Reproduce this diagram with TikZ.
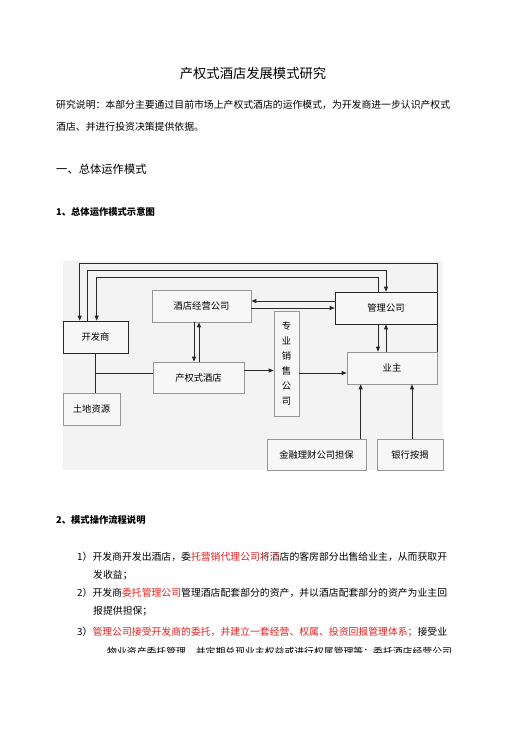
\documentclass[tikz,border=0pt]{standalone}
\usepackage{fontspec}
\setmainfont{Noto Sans CJK SC}
\usepackage{xcolor}
\usetikzlibrary{arrows.meta}

\definecolor{notered}{RGB}{228,32,32}
\definecolor{bggray}{RGB}{243,243,243}
\definecolor{boxfill}{RGB}{247,247,247}
\definecolor{boxline}{RGB}{150,150,150}
\definecolor{linegray}{RGB}{40,40,40}

\begin{document}
\begin{tikzpicture}[
    x=1pt, y=-1pt,
    box/.style={
        rectangle,
        draw=boxline,
        fill=boxfill,
        line width=0.7pt,
        inner sep=0pt,
        align=center,
        font=\fontsize{9.3}{11}\selectfont
    },
    darkbox/.style={box, draw=black!85},
    arrow/.style={-{Triangle[length=5pt,width=4pt]}, line width=0.8pt, draw=linegray},
    link/.style={line width=0.8pt, draw=linegray},
    bodytext/.style={anchor=west, inner sep=0pt, font=\fontsize{9.85}{12}\selectfont},
    headtext/.style={anchor=west, inner sep=0pt, font=\fontsize{9.3}{11}\selectfont\bfseries}
]
\useasboundingbox (0,0) rectangle (506,742);
\fill[white] (0,0) rectangle (506,742);

% Page text
\node[inner sep=0pt, font=\fontsize{13.3}{16}\selectfont] (doctitle) at (253,73) {产权式酒店发展模式研究};
\node[bodytext] (intro1) at (56,105) {研究说明：本部分主要通过目前市场上产权式酒店的运作模式，为开发商进一步认识产权式};
\node[bodytext] (intro2) at (56,127) {酒店、并进行投资决策提供依据。};
\node[bodytext, font=\fontsize{11.3}{14}\selectfont] (sec1) at (56,169) {一、总体运作模式};
\node[headtext] (sub1) at (56,212) {1、总体运作模式示意图};

% Diagram background
\fill[bggray] (63,261) rectangle (443,470);

% Boxes
\node[darkbox, minimum width=65pt, minimum height=32pt] (dev) at (95.5,337) {开发商};
\node[box, minimum width=57pt, minimum height=32pt] (land) at (91.5,409) {土地资源};
\node[box, minimum width=99pt, minimum height=32pt] (oper) at (201.5,306) {酒店经营公司};
\node[box, minimum width=91pt, minimum height=31pt] (hotel) at (198.5,377.5) {产权式酒店};
\node[box, minimum width=25pt, minimum height=105pt,
      font=\fontsize{9.3}{15}\selectfont] (sales) at (286.5,363.5) {专\\业\\销\\售\\公\\司};
\node[darkbox, minimum width=102pt, minimum height=32pt] (mgmt) at (386,308) {管理公司};
\node[box, minimum width=90pt, minimum height=32pt] (owner) at (392,368) {业主};
\node[box, minimum width=99pt, minimum height=31pt] (fin) at (316.5,454.5) {金融理财公司担保};
\node[box, minimum width=66pt, minimum height=31pt] (bank) at (410,454.5) {银行按揭};

% Loops over the top
\draw[arrow] (owner.north east) -- (owner.north east |- 0,263) -| ([xshift=17]dev.north west);
\draw[arrow] ([xshift=25]dev.north west) -- ++(0,-50) -| (mgmt.north);
\draw[arrow] ([xshift=-8]mgmt.north) -- ++(0,-14) -| ([xshift=34]dev.north west);

% Operator and management company
\draw[arrow] ([yshift=7]mgmt.west) -- ([yshift=7]mgmt.west -| oper.east);
\draw[arrow] ([yshift=-2]oper.east) -- ([yshift=-2]oper.east -| mgmt.west);

% Operator and hotel
\draw[arrow] ([xshift=-7.5]oper.south) -- ([xshift=-7.5]oper.south |- hotel.north);
\draw[arrow] ([xshift=-2.5]oper.south |- hotel.north) -- ([xshift=-2.5]oper.south);

% Developer, land and hotel
\draw[link] (dev.south) -- (dev.south |- land.north);
\draw[link] ([yshift=4.5]hotel.west) -- ([yshift=4.5]hotel.west -| dev.south);

% Sales chain
\draw[arrow] ([yshift=7]hotel.east) -- ([yshift=7]hotel.east -| sales.west);
\draw[arrow] ([yshift=-9.5]sales.east) -- ([yshift=-9.5]sales.east -| owner.west);

% Management company and owner
\draw[arrow] ([xshift=-8]mgmt.south) -- ([xshift=-8]mgmt.south |- owner.north);
\draw[arrow] (mgmt.south |- owner.north) -- (mgmt.south);

% Finance into owner
\draw[arrow] ([xshift=14]owner.south west |- fin.north) -- ([xshift=14]owner.south west);
\draw[arrow] ([xshift=2]bank.north) -- ([xshift=2]bank.north |- owner.south);

% Process notes
\node[headtext] (sub2) at (56,520) {2、模式操作流程说明};
\node[bodytext] (item1) at (77,557) {1）开发商开发出酒店，委\textcolor{notered}{托营销代理公司}\textcolor{notered!55!black}{将酒}店的客房部分出售给业主，从而获取开};
\node[bodytext] (item1b) at (93,575) {发收益；};
\node[bodytext] (item2) at (77,593) {2）开发商\textcolor{notered}{委托管理公司}管理酒店配套部分的资产，并以酒店配套部分的资产为业主回};
\node[bodytext] (item2b) at (93,611) {报提供担保；};
\node[bodytext] (item3) at (77,632) {3）\textcolor{notered}{管理公司接受开发商的委托，并建立一套经营、权属、投资回报管理体系；}接受业};
\begin{scope}
\clip (0,0) rectangle (506,652);
\node[bodytext] (item3b) at (107,652) {物业资产委托管理，并定期兑现业主权益或进行权属管理等；委托酒店经营公司};
\end{scope}

\end{tikzpicture}
\end{document}
